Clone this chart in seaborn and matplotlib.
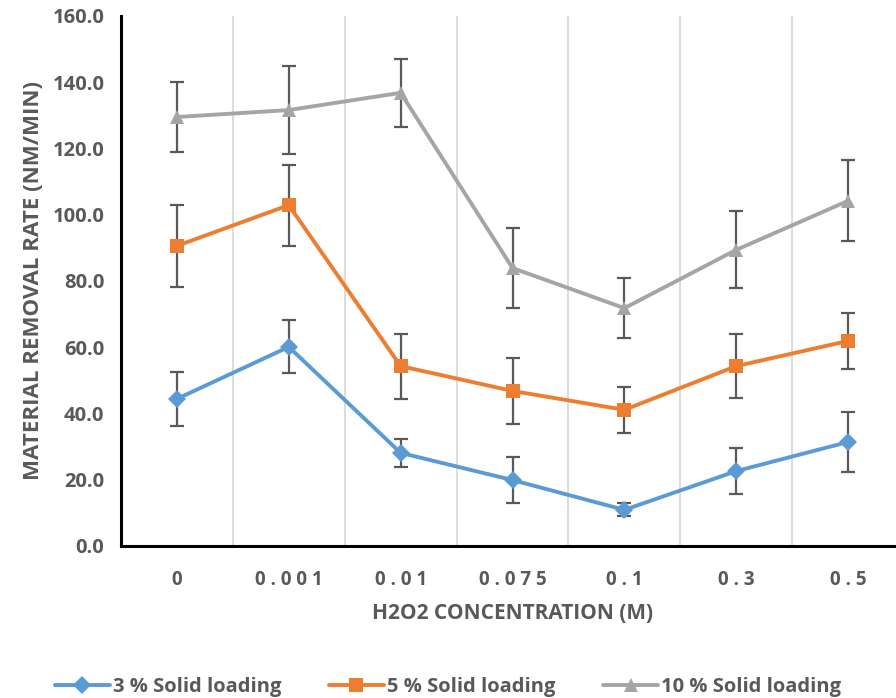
import matplotlib
matplotlib.use("Agg")
import matplotlib.pyplot as plt
from matplotlib.lines import Line2D
import seaborn as sns
import pandas as pd
import numpy as np

categories = ["0", "0.001", "0.01", "0.075", "0.1", "0.3", "0.5"]
series_names = ["3 % Solid loading", "5 % Solid loading", "10 % Solid loading"]
mrr_3 = [44.4, 60.1, 28.1, 19.9, 10.9, 22.6, 31.4]
err_3 = [8.2, 8.0, 4.2, 7.0, 2.0, 7.0, 9.0]
mrr_5 = [90.6, 102.9, 54.3, 46.8, 41.1, 54.3, 61.9]
err_5 = [12.3, 12.2, 9.8, 10.0, 7.0, 9.7, 8.5]
mrr_10 = [129.5, 131.6, 136.8, 83.9, 71.8, 89.4, 104.2]
err_10 = [10.6, 13.2, 10.3, 12.0, 9.0, 11.6, 12.2]
y_ticks = [0, 20, 40, 60, 80, 100, 120, 140, 160]

values = [mrr_3, mrr_5, mrr_10]
errors = [err_3, err_5, err_10]
colors = ["#5B9BD5", "#ED7D31", "#A5A5A5"]
markers = ["D", "s", "^"]
msizes = [9, 10.5, 10.5]

rows = []
for name, vals, errs in zip(series_names, values, errors):
    for i, (c, v, e) in enumerate(zip(categories, vals, errs)):
        rows.append({"pos": i, "conc": c, "mrr": v, "err": e, "series": name})
df = pd.DataFrame(rows)

sns.set_style("white")
plt.rcParams['font.family'] = ['Open Sans', 'DejaVu Sans']
TXT = "#595959"

fig = plt.figure(figsize=(8.96, 6.98), dpi=100)
ax = fig.add_axes([0.135, 0.2178, 0.874, 0.7593])

for name in series_names:
    sub = df[df.series == name]
    ax.errorbar(sub["pos"], sub["mrr"], yerr=sub["err"], fmt="none",
                ecolor=TXT, elinewidth=1.6, capsize=5, capthick=1.6, zorder=1)

sns.lineplot(data=df, x="pos", y="mrr", hue="series", style="series",
             palette=dict(zip(series_names, colors)),
             markers=dict(zip(series_names, markers)), dashes=False,
             linewidth=2.8, markeredgewidth=0, markersize=10, ax=ax, zorder=3, legend=False)
for line in ax.lines:
    for col, ms in zip(colors, msizes):
        if matplotlib.colors.same_color(line.get_color(), col) and line.get_marker() not in (None, "None", ""):
            line.set_markersize(ms)

ax.set_xlim(-0.5, 6.5)
ax.set_ylim(0, 160)
ax.set_yticks(y_ticks)
ax.set_yticklabels([f"{t:.1f}" for t in y_ticks], fontsize=14.5, fontweight="bold", color=TXT)
ax.set_xticks(range(len(categories)))
ax.set_xticklabels([" ".join(c) if len(c) > 1 else c for c in categories],
                   fontsize=13.5, fontweight="bold", color=TXT)

for xg in np.arange(0.5, 6.5, 1.0):
    ax.axvline(xg, color="#D9D9D9", linewidth=1.3, zorder=0)

for s in ["top", "right"]:
    ax.spines[s].set_visible(False)
for s in ["left", "bottom"]:
    ax.spines[s].set_color("black")
    ax.spines[s].set_linewidth(2.2)

ax.tick_params(axis="x", direction="in", length=5, width=1.8, color="black", pad=17)
ax.tick_params(axis="y", direction="in", length=5, width=1.8, color="black", pad=12)

ax.set_xlabel("H2O2 CONCENTRATION (M)", fontsize=15, fontweight="bold", color=TXT, labelpad=10)
ax.set_ylabel("MATERIAL REMOVAL RATE (NM/MIN)", fontsize=16, fontweight="bold", color=TXT, labelpad=6)

handles = [Line2D([0], [0], color=c, marker=m, markersize=ms, markeredgewidth=0, linewidth=2.8)
           for c, m, ms in zip(colors, markers, msizes)]
leg = fig.legend(handles, series_names, loc="lower center", bbox_to_anchor=(0.5, -0.025), ncol=3,
                 frameon=False, fontsize=14.5, handlelength=2.7, columnspacing=2.4, handletextpad=0.15)
for t in leg.get_texts():
    t.set_color(TXT)
    t.set_fontweight("bold")

fig.savefig("out.png", dpi=100)
